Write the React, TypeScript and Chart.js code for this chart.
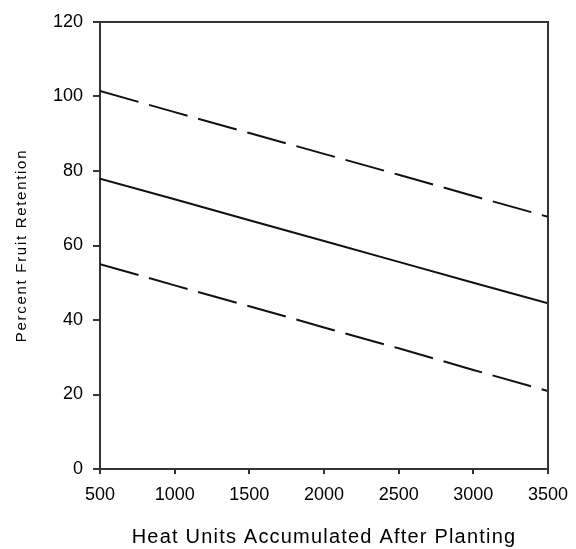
import React, { useEffect, useRef } from "react";
import { Chart, registerables } from "chart.js";

Chart.register(...registerables);

const xValues = [500, 1000, 1500, 2000, 2500, 3000, 3500];
const upperBand = [101.5, 95.8, 90.2, 84.6, 79.0, 73.3, 67.7];
const fitted = [77.9, 72.4, 66.8, 61.2, 55.6, 50.0, 44.5];
const lowerBand = [55.0, 49.3, 43.7, 38.0, 32.4, 26.6, 20.9];

const xTitle = "Heat Units Accumulated After Planting";
const yTitle = "Percent Fruit Retention";

const FONT = "'Liberation Sans', Arial, sans-serif";

function patchTitle(scale: any, spacing: string) {
  if (scale.__patched) return;
  const orig = scale.drawTitle.bind(scale);
  scale.drawTitle = function () {
    const ctx = this.ctx;
    const prev = ctx.letterSpacing;
    ctx.letterSpacing = spacing;
    orig();
    ctx.letterSpacing = prev;
  };
  scale.__patched = true;
}

const boxPlugin = {
  id: "box",
  afterDatasetsDraw(chart: any) {
    const { ctx, chartArea } = chart;
    ctx.save();
    ctx.strokeStyle = "#333";
    ctx.lineWidth = 2;
    ctx.beginPath();
    ctx.moveTo(chartArea.left, chartArea.top);
    ctx.lineTo(chartArea.right, chartArea.top);
    ctx.lineTo(chartArea.right, chartArea.bottom);
    ctx.stroke();
    ctx.restore();
  },
};

export default function App() {
  const ref = useRef<HTMLCanvasElement>(null);
  useEffect(() => {
    if (!ref.current) return;
    const mk = (vals: number[]) => xValues.map((x, i) => ({ x, y: vals[i] }));
    const chart = new Chart(ref.current, {
      type: "line",
      data: {
        datasets: [
          {
            data: mk(upperBand),
            borderColor: "#111",
            borderWidth: 2,
            borderDash: [40, 11],
            pointRadius: 0,
            tension: 0,
          },
          {
            data: mk(fitted),
            borderColor: "#111",
            borderWidth: 2,
            pointRadius: 0,
            tension: 0,
          },
          {
            data: mk(lowerBand),
            borderColor: "#111",
            borderWidth: 2,
            borderDash: [40, 11],
            pointRadius: 0,
            tension: 0,
          },
        ],
      },
      options: {
        responsive: false,
        animation: false,
        layout: { padding: { top: 22, right: 28, left: 0, bottom: 0 } },
        plugins: { legend: { display: false }, tooltip: { enabled: false } },
        scales: {
          x: {
            type: "linear",
            min: 500,
            max: 3500,
            ticks: {
              stepSize: 500,
              color: "#000",
              font: { family: FONT, size: 18 },
              padding: 10,
              maxRotation: 0,
              callback: (v: any) => String(v),
            },
            grid: {
              drawOnChartArea: false,
              drawTicks: true,
              tickLength: 5,
              color: "#333",
              lineWidth: 2,
            },
            border: { display: true, color: "#333", width: 2 },
            title: {
              display: true,
              text: xTitle,
              color: "#000",
              font: { family: FONT, size: 20 },
              padding: { top: 0, bottom: 0 },
            },
            afterFit: (s: any) => {
              s.height = 80;
              s.paddingRight = 0;
              s.paddingLeft = 0;
              patchTitle(s, "1.2px");
            },
          },
          y: {
            min: 0,
            max: 120,
            ticks: {
              stepSize: 20,
              color: "#000",
              font: { family: FONT, size: 18 },
              padding: 10,
              callback: (v: any) => String(v),
            },
            grid: {
              drawOnChartArea: false,
              drawTicks: true,
              tickLength: 7,
              color: "#333",
              lineWidth: 2,
            },
            border: { display: true, color: "#333", width: 2 },
            title: {
              display: true,
              text: yTitle,
              color: "#000",
              font: { family: FONT, size: 15 },
              padding: { top: 13, bottom: 0 },
            },
            afterFit: (s: any) => {
              s.width = 100;
              patchTitle(s, "1.7px");
            },
          },
        },
      },
      plugins: [boxPlugin],
    });
    return () => chart.destroy();
  }, []);
  return (
    <div style={{ position: "absolute", left: 0, top: 0, width: 576, height: 549, background: "#fff" }}>
      <canvas ref={ref} width={576} height={549} style={{ display: "block" }} />
    </div>
  );
}
